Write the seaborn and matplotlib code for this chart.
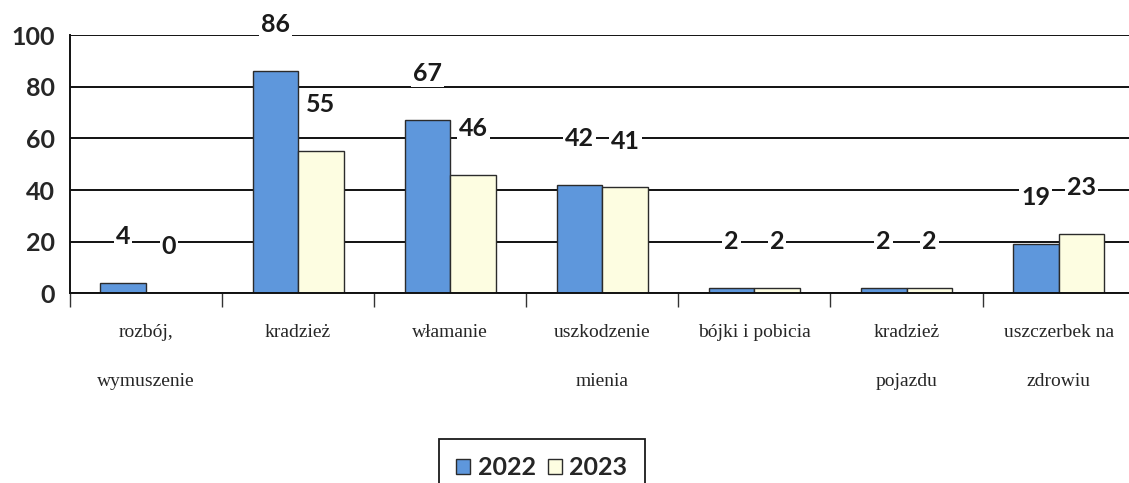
import numpy as np
import pandas as pd
import matplotlib.pyplot as plt
import seaborn as sns
from matplotlib.patches import Patch

# dane z wykresu
kategorie = ["rozbój,\nwymuszenie", "kradzież", "włamanie", "uszkodzenie\nmienia",
             "bójki i pobicia", "kradzież\npojazdu", "uszczerbek na\nzdrowiu"]
lata = ["2022", "2023"]
v2022 = [4, 86, 67, 42, 2, 2, 19]
v2023 = [0, 55, 46, 41, 2, 2, 23]
kolory = ["#5e97dc", "#fdfde1"]

df = pd.DataFrame({
    "kategoria": kategorie * 2,
    "rok": [lata[0]] * len(kategorie) + [lata[1]] * len(kategorie),
    "liczba": v2022 + v2023,
})

sns.set_theme(style="white")
plt.rcParams["font.family"] = ["Lato", "DejaVu Sans"]

fig = plt.figure(figsize=(11.29, 4.83), dpi=100)
ax = fig.add_axes([0.062, 0.393, 0.943, 0.534])

sns.barplot(data=df, x="kategoria", y="liczba", hue="rok", palette=kolory,
            width=0.6, gap=0, saturation=1, edgecolor="#2b2b2b", linewidth=1,
            ax=ax, legend=False)

# osie i siatka
ax.set_xlim(-0.5, 6.5)
ax.set_ylim(0, 100)
ax.set_yticks(range(0, 101, 20))
ax.set_yticklabels([str(t) for t in range(0, 101, 20)], fontsize=18, fontweight="bold")
ax.yaxis.grid(True, color="#111111", lw=1.4)
ax.set_axisbelow(True)
ax.set_xlabel("")
ax.set_ylabel("")
for s in ["top", "right"]:
    ax.spines[s].set_visible(False)
for s in ["left", "bottom"]:
    ax.spines[s].set_color("#111111")
    ax.spines[s].set_linewidth(1.4)
ax.tick_params(axis="y", direction="out", length=7, width=1.2, color="#111111", pad=4)

ax.set_xticks(range(len(kategorie)))
ax.set_xticklabels(kategorie, fontfamily="Liberation Serif", fontsize=14)
for lbl in ax.get_xticklabels():
    lbl.set_linespacing(3.5)
ax.set_xticks(np.arange(-0.5, len(kategorie), 1), minor=True)
ax.tick_params(axis="x", which="major", length=0, pad=22)
ax.tick_params(axis="x", which="minor", direction="out", length=10, width=1, color="#333333", bottom=True)

# etykiety wartości
for cont, vals in zip(ax.containers, [v2022, v2023]):
    for bar, v in zip(cont, vals):
        ax.text(bar.get_x() + bar.get_width() / 2, v + 18, str(v), ha="center", va="center",
                fontsize=18, fontweight="bold", color="#1a1a1a",
                bbox=dict(facecolor="white", edgecolor="none", pad=1.5), zorder=5)

# legenda
uchwyty = [Patch(facecolor=c, edgecolor="#2b2b2b") for c in kolory]
leg = fig.legend(uchwyty, lata, loc="upper center", bbox_to_anchor=(0.48, 0.092), ncol=2,
                 frameon=True, fancybox=False, edgecolor="#1a1a1a", framealpha=1,
                 prop={"weight": "bold", "size": 18}, handlelength=0.55, handleheight=0.55,
                 handletextpad=0.3, columnspacing=0.5, borderpad=0.7, borderaxespad=0)
leg.get_frame().set_linewidth(1.3)

fig.savefig("out.png", dpi=100)
